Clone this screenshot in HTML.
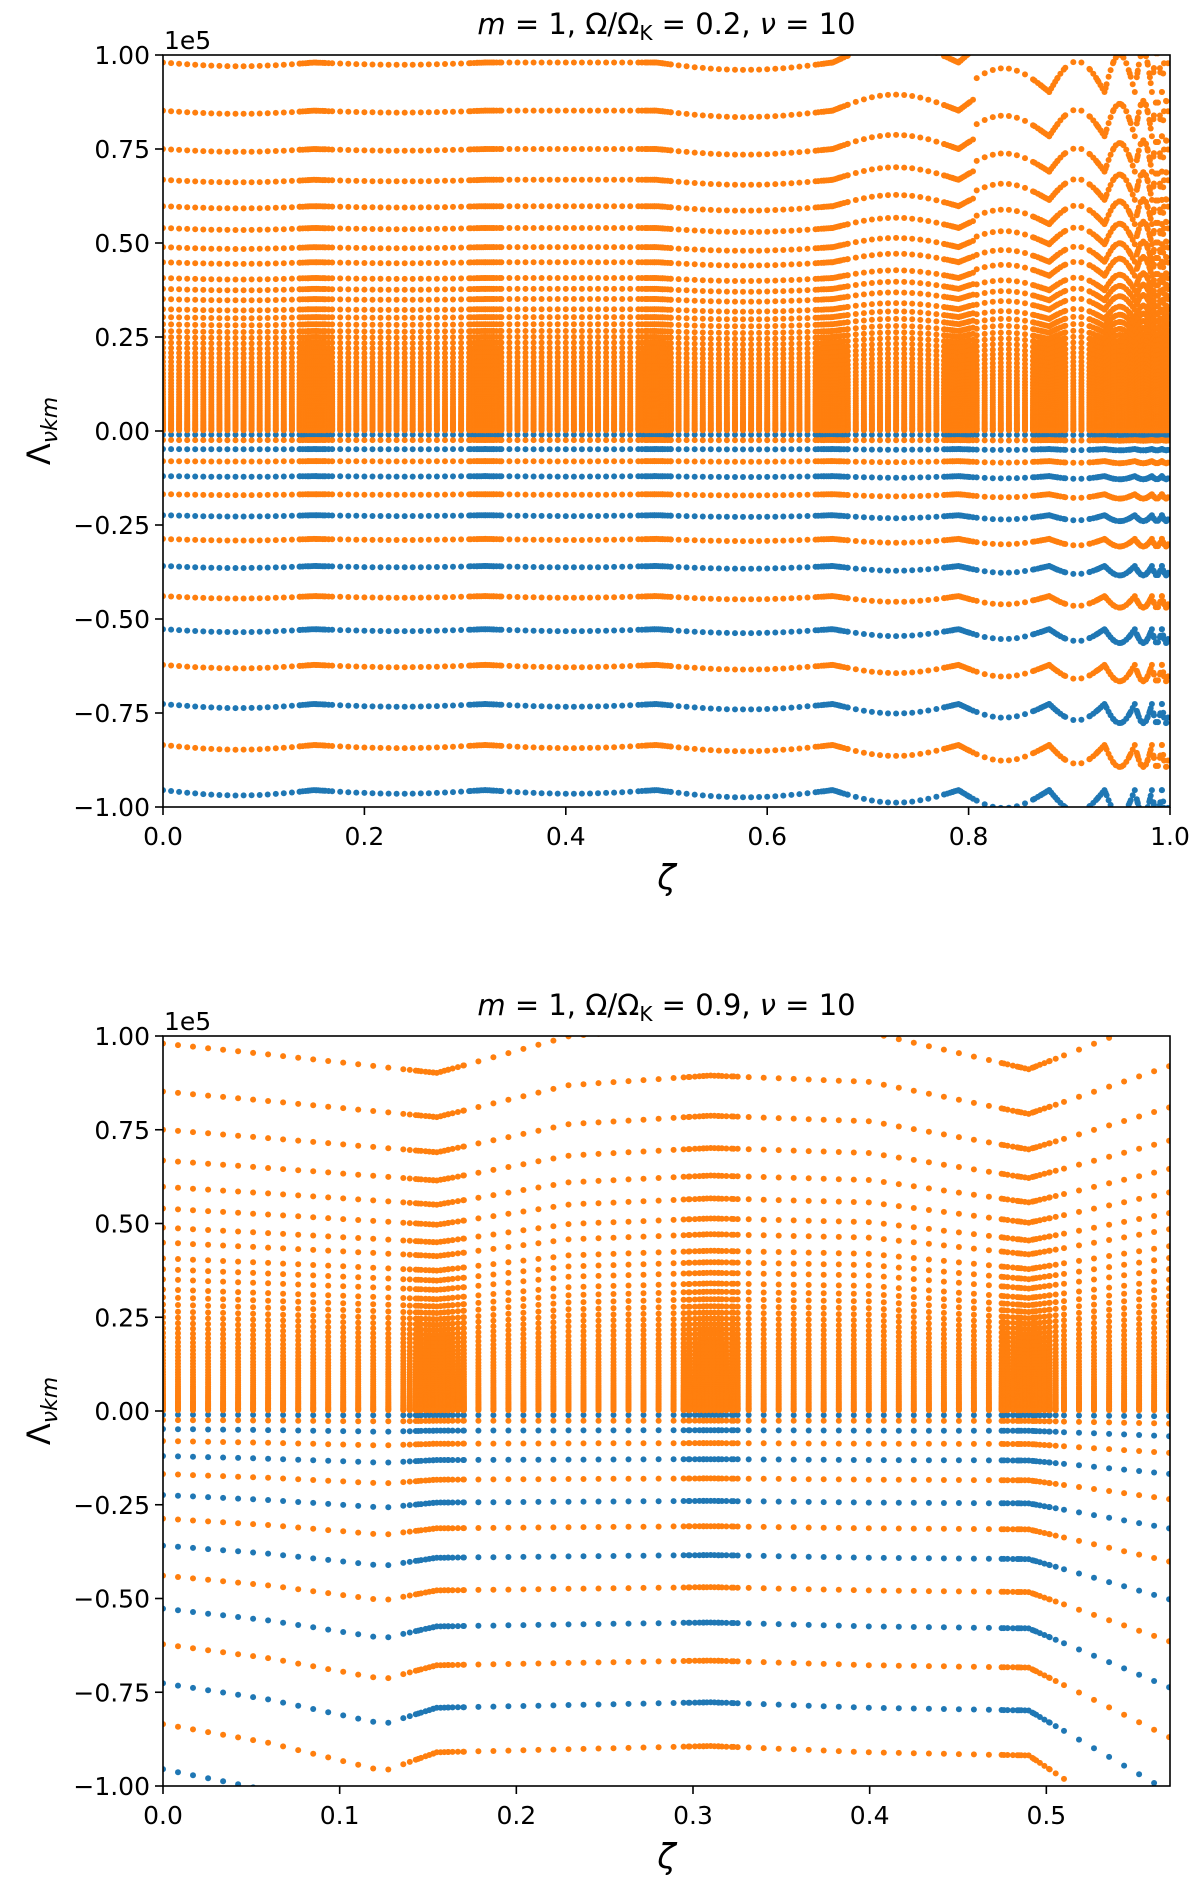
<!DOCTYPE html>
<html><head><meta charset="utf-8">
<style>
html,body{margin:0;padding:0;background:#fff;}
svg{display:block;font-family:"DejaVu Sans","Liberation Sans",sans-serif;}
</style></head>
<body>
<svg id="fig" width="1200" height="1894" viewBox="0 0 1200 1894" xmlns="http://www.w3.org/2000/svg">
<defs>
<clipPath id="clipTop"><rect x="163" y="55" width="1007" height="752"/></clipPath>
<clipPath id="clipBot"><rect x="163" y="1036" width="1007" height="750"/></clipPath>
</defs>
<g id="topPanel"></g>
<g id="botPanel"></g>
</svg>
<script>
// ---- data ----
const posLevels = [0.98,0.852,0.75,0.668,0.598,0.54,0.489,0.449,0.407,0.378,0.351,0.324,0.303,0.284,0.266,0.25,0.235,0.221,0.208,0.196,0.184,0.173,0.163,0.153,0.144,0.135,0.127,0.119,0.111,0.104,0.097,0.09,0.084,0.078,0.072,0.066,0.061,0.056,0.051,0.046,0.042,0.038,0.034,0.03,0.026,0.023,0.02,0.017,0.014,0.011,0.008,0.006,0.004,0.002];
const negLevels = [-0.01,-0.024,-0.048,-0.08,-0.12,-0.168,-0.224,-0.287,-0.359,-0.439,-0.527,-0.622,-0.726,-0.835,-0.955];
const negColors = ['b','o','b','o','b','o','b','o','b','o','b','o','b','o','b'];
// top panel: cusp locations and per-segment relative amplitudes
const topCusps = [0,0.15,0.32,0.49,0.665,0.79,0.88,0.935,0.965,0.982,0.992,1.0];
const topPosAmp = [-0.01,-0.006,0.0,-0.02,0.05,0.07,0.09,0.11,0.12,0.12,0.12];
const topNegAmp = [0.015,0.01,0.01,0.02,0.035,0.05,0.06,0.07,0.07,0.07,0.07];
// bottom panel: shape factors at knots
const botPosKnots = [0,0.06,0.155,0.23,0.31,0.4,0.49,0.57];
const botPosFactor = [1,0.97,0.92,1.02,1.05,1.03,0.93,1.08];
const botNegKnots = [0,0.06,0.125,0.155,0.23,0.31,0.4,0.49,0.57];
const botNegFactor = [1,1.06,1.15,1.09,1.08,1.07,1.09,1.1,1.4];
const topXTicks = [0,0.2,0.4,0.6,0.8,1.0];
const botXTicks = [0,0.1,0.2,0.3,0.4,0.5];
const yTicks = [1,0.75,0.5,0.25,0,-0.25,-0.5,-0.75,-1];
const yTickLabels = ['1.00','0.75','0.50','0.25','0.00','\u22120.25','\u22120.50','\u22120.75','\u22121.00'];

const NS='http://www.w3.org/2000/svg';
const BLUE='#1f77b4', ORANGE='#ff7f0e';
function mk(tag,attrs,parent){const e=document.createElementNS(NS,tag);for(const k in attrs)e.setAttribute(k,attrs[k]);parent.appendChild(e);return e;}

function samplePositions(xmax,step,cusps){
  const s=[];
  for(let x=0;x<=xmax+1e-9;x+=step)s.push(x);
  const offs=[0.25,0.5,0.75,1.05,1.4,1.8];
  cusps.forEach(c=>{if(c>0&&c<xmax){s.push(c);offs.forEach(o=>{s.push(c-step*o);s.push(c+step*o);});}});
  return s.filter(v=>v>=0&&v<=xmax).sort((a,b)=>a-b);
}
function topFactor(z,amps){
  for(let i=0;i<topCusps.length-1;i++){
    const a=topCusps[i],b=topCusps[i+1];
    if(z>=a&&z<=b){return 1+amps[i]*Math.sin(Math.PI*(z-a)/(b-a));}
  }
  return 1;
}
function lin(z,kn,vals){
  for(let i=0;i<kn.length-1;i++){if(z>=kn[i]&&z<=kn[i+1]){const t=(z-kn[i])/(kn[i+1]-kn[i]);return vals[i]+t*(vals[i+1]-vals[i]);}}
  return vals[vals.length-1];
}

function panel(g,cfg){
  const L=163,R=1170,T=cfg.top,B=cfg.bot;
  const xs=v=>L+(R-L)*v/cfg.xmax;
  const ys=v=>T+(B-T)*(1-v)/2;
  const marks=mk('g',{'clip-path':'url(#'+cfg.clip+')'},g);
  
  
  const samples=samplePositions(cfg.xmax,cfg.step,cfg.cusps);
  const blueG=mk('g',{fill:BLUE},marks), orG=mk('g',{fill:ORANGE},marks);
  
  
  
  
  negLevels.forEach((lv,i)=>{
    const grp=negColors[i]==='b'?blueG:orG;
    samples.forEach(z=>{const v=lv*cfg.negF(z,lv);if(v<-1.03)return;mk('circle',{cx:xs(z).toFixed(1),cy:ys(v).toFixed(1),r:3},grp);});
  });
  posLevels.forEach(lv=>{
    samples.forEach(z=>{const v=lv*cfg.posF(z,lv);if(v>1.03)return;mk('circle',{cx:xs(z).toFixed(1),cy:ys(v).toFixed(1),r:3},orG);});
  });
  const frame=mk('rect',{x:L,y:T,width:R-L,height:B-T,fill:'none',stroke:'#000','stroke-width':1.6},g);
  
  
  cfg.xticks.forEach(t=>{
    const x=xs(t);
    mk('line',{x1:x,y1:B,x2:x,y2:B+8,stroke:'#000','stroke-width':1.6},g);
    const tx=mk('text',{x:x,y:B+38,'font-size':25,'text-anchor':'middle'},g);
    tx.textContent=t.toFixed(1);
    
    
  });
  yTicks.forEach((t,i)=>{
    const y=ys(t);
    mk('line',{x1:L-8,y1:y,x2:L,y2:y,stroke:'#000','stroke-width':1.6},g);
    const tx=mk('text',{x:L-13,y:y+9,'font-size':25,'text-anchor':'end'},g);
    tx.textContent=yTickLabels[i];
    
    
  });
  const off=mk('text',{x:L+1,y:T-6,'font-size':25},g);
  off.textContent='1e5';
  
  
  const xl=mk('text',{x:(L+R)/2,y:B+82,'font-size':34,'font-style':'italic','text-anchor':'middle'},g);
  xl.textContent='\u03B6';
  
  
  const yl=mk('text',{transform:'translate(50,'+((T+B)/2)+') rotate(-90)','font-size':32,'text-anchor':'middle'},g);
  yl.innerHTML='\u039B<tspan font-size="22" dy="7" font-style="italic">\u03BDkm</tspan>';
  
  
  const ti=mk('text',{x:(L+R)/2,y:T-21,'font-size':29,'text-anchor':'middle'},g);
  ti.innerHTML='<tspan font-style="italic">m</tspan> = 1,  \u03A9/\u03A9<tspan font-size="20" dy="6">K</tspan><tspan dy="-6"> = '+cfg.omega+',  </tspan><tspan font-style="italic">\u03BD</tspan> = 10';
  
  
}

panel(document.getElementById('topPanel'),{top:55,bot:807,xmax:1.0,step:0.008,cusps:topCusps,clip:'clipTop',
  xticks:topXTicks,omega:'0.2',
  posF:(z)=>topFactor(z,topPosAmp)*(z>0.805?0.92:1),
  negF:(z)=>topFactor(z,topNegAmp)});
panel(document.getElementById('botPanel'),{top:1036,bot:1786,xmax:0.57,step:0.0085,cusps:[0.155,0.31,0.49],clip:'clipBot',
  xticks:botXTicks,omega:'0.9',
  posF:(z)=>lin(z,botPosKnots,botPosFactor),
  negF:(z)=>lin(z,botNegKnots,botNegFactor)});
</script>
</body></html>
